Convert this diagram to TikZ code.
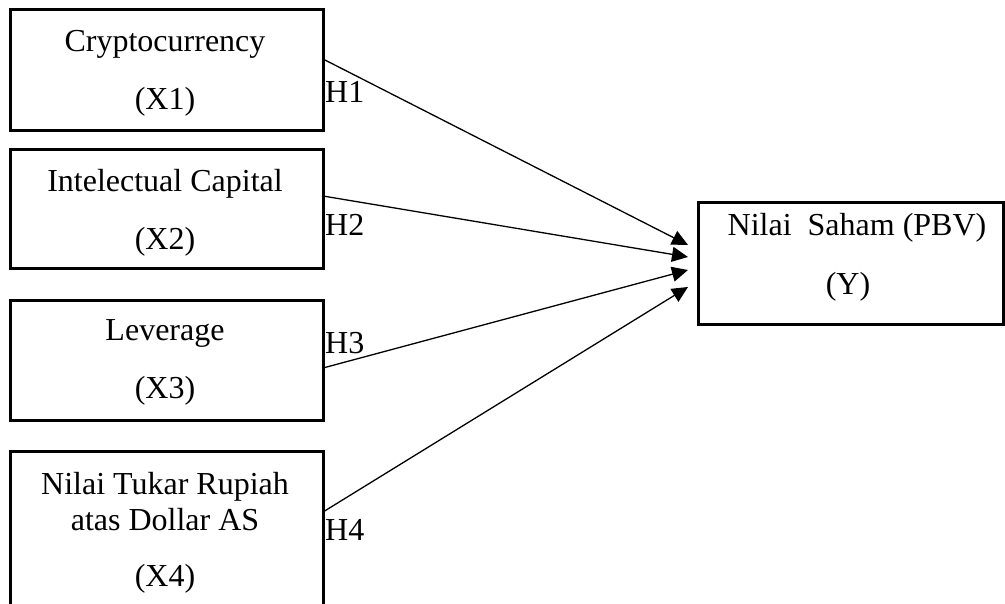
\documentclass[tikz,border=0pt]{standalone}
\usepackage{fontspec}
\setmainfont{Liberation Serif}
\usetikzlibrary{arrows.meta}
\begin{document}
\begin{tikzpicture}[x=1pt,y=-1pt,
  varbox/.style={draw,line width=3pt,inner sep=0pt,outer sep=0pt,rectangle},
  txt/.style={anchor=base,inner sep=0pt,font=\fontsize{32}{38}\selectfont},
  hlab/.style={anchor=base west,inner sep=0pt,font=\fontsize{32}{38}\selectfont},
  arr/.style={line width=1.3pt,-{Triangle[length=16pt,width=15pt]}}]
\useasboundingbox (0,0) rectangle (1005,604);
\node[varbox,minimum width=313pt,minimum height=121pt] (b1) at (166.5,70.5) {};
\node[varbox,minimum width=313pt,minimum height=119pt] (b2) at (166.5,209.5) {};
\node[varbox,minimum width=313pt,minimum height=119pt] (b3) at (166.5,360.5) {};
\node[varbox,minimum width=313pt,minimum height=169pt] (b4) at (166.5,535.5) {};
\node[varbox,minimum width=305pt,minimum height=122pt] (y) at (850.5,264) {};
\node[txt] (t1a) at (165,52) {Cryptocurrency};
\node[txt] (t1b) at (165,110) {(X1)};
\node[txt] (t2a) at (165,192) {Intelectual Capital};
\node[txt] (t2b) at (165,250) {(X2)};
\node[txt] (t3a) at (165,341) {Leverage};
\node[txt] (t3b) at (165,398) {(X3)};
\node[txt] (t4a) at (165,494) {Nilai Tukar Rupiah};
\node[txt] (t4b) at (165,530) {atas Dollar AS};
\node[txt] (t4c) at (165,586) {(X4)};
\node[txt] (tya) at (857,236) {Nilai\ \ Saham (PBV)};
\node[txt] (tyb) at (848,295) {(Y)};
\draw[arr] ([yshift=11.5pt]b1.east) -- ([xshift=-10pt,yshift=19pt]y.west);
\draw[arr] ([yshift=13.5pt]b2.east) -- ([xshift=-10pt,yshift=7pt]y.west);
\draw[arr] ([yshift=-7.5pt]b3.east) -- ([xshift=-10pt,yshift=-6pt]y.west);
\draw[arr] ([yshift=23.5pt]b4.east) -- ([xshift=-10pt,yshift=-23pt]y.west);
\node[hlab] (h1) at (325,103) {H1};
\node[hlab] (h2) at (325,236) {H2};
\node[hlab] (h3) at (325,353) {H3};
\node[hlab] (h4) at (325,540) {H4};
\end{tikzpicture}
\end{document}
